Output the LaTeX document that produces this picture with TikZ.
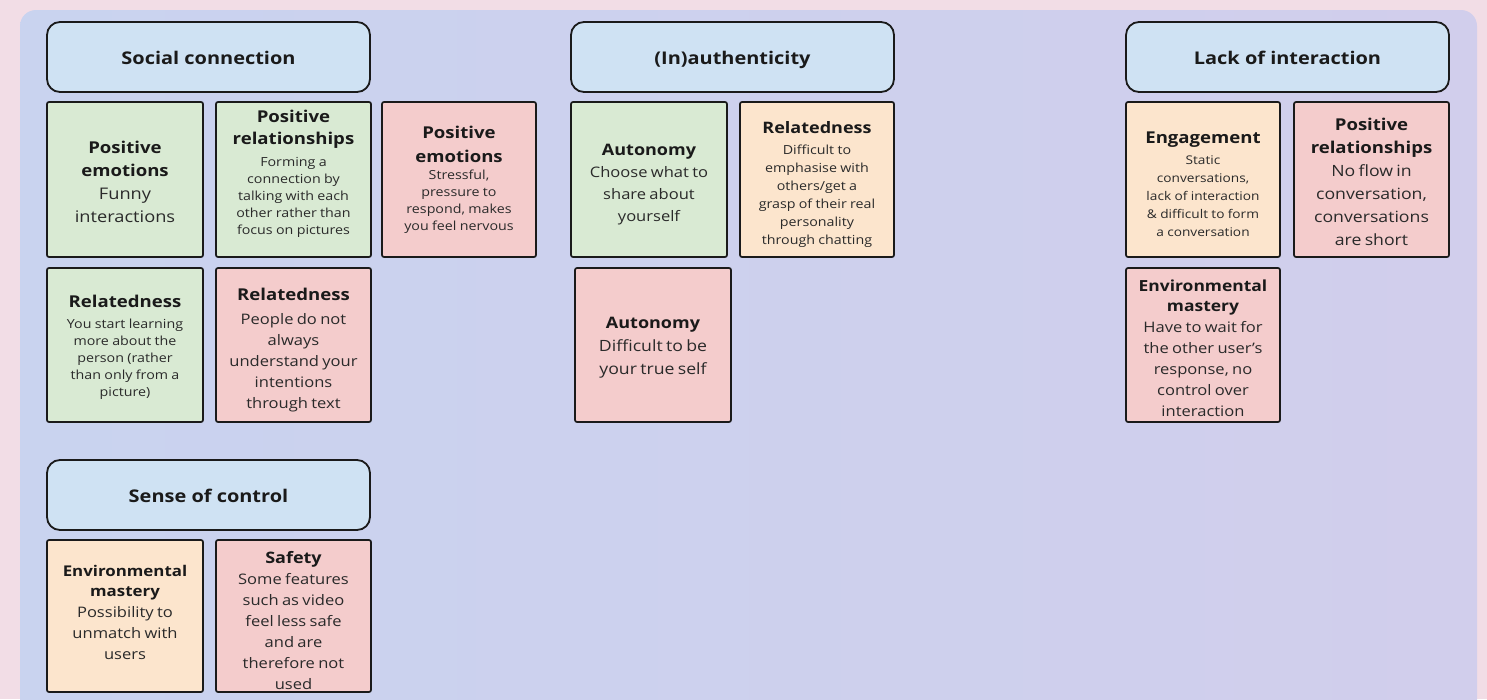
\documentclass[tikz,border=0pt]{standalone}
\usepackage{fontspec}
\setmainfont{Open Sans}[FakeStretch=1.14]
\usetikzlibrary{positioning}

\definecolor{bgpink}{HTML}{F2DDE6}
\definecolor{panelL}{HTML}{C9D3EF}
\definecolor{panelR}{HTML}{D1CEEC}
\definecolor{ink}{HTML}{1A1A1A}
\definecolor{bodyink}{HTML}{2A2A2A}
\definecolor{hdrblue}{HTML}{CFE2F3}
\definecolor{cgreen}{HTML}{D9EAD3}
\definecolor{cred}{HTML}{F4CCCC}
\definecolor{corange}{HTML}{FCE5CD}

% heading and body text of a card
\newcommand\cardhead[3]{{\fontsize{#1}{#2}\selectfont\bfseries\color{ink}#3\par}}
\newcommand\cardbody[3]{{\fontsize{#1}{#2}\selectfont\color{bodyink}#3\par}}
% extra space between heading and body
\newcommand\headgap[1]{\vspace*{#1}}
% move the text block of a card down by #1 (negative: up)
\newcommand\lowerby[1]{\par\vspace*{-2\dimexpr#1\relax}}

\tikzset{
  card/.style={draw=ink, line width=1.7pt, rounded corners=2pt, inner sep=0pt,
               align=center, text=ink},
  gcard/.style={card, fill=cgreen},
  rcard/.style={card, fill=cred},
  ocard/.style={card, fill=corange},
  dims/.style n args={3}{minimum width=#1, minimum height=#2, text width=#3},
  theme/.style={draw=ink, line width=1.8pt, rounded corners=13pt, fill=hdrblue,
                minimum width=323pt, minimum height=70pt, text=ink,
                text height=18pt, text depth=3pt,
                font=\fontsize{17.5}{20}\selectfont\bfseries},
}

\begin{document}
\begin{tikzpicture}[x=1pt,y=-1pt]
\useasboundingbox (0,0) rectangle (1487,699);
\fill[bgpink] (0,0) rectangle (1487,699);
\shade[left color=panelL, right color=panelR, rounded corners=16pt]
  (20,10) rectangle (1477,760);

% ---- Social connection ----
\node[theme] (sc) at (208.5,57) {Social connection};
\node[gcard, dims={156pt}{155pt}{150pt}] (sc1) at (125,179.5)
  {\cardhead{16.3}{23}{Positive\\emotions}\cardbody{16}{23}{Funny\\interactions}\lowerby{2pt}};
\node[gcard, dims={155pt}{155pt}{150pt}] (sc2) at (293.5,179.5)
  {\cardhead{16.3}{22}{Positive\\relationships}\headgap{5pt}\cardbody{12.5}{17}{Forming a\\connection by\\talking with each\\other rather than\\focus on pictures}\lowerby{-5.5pt}};
\node[rcard, dims={154pt}{155pt}{150pt}] (sc3) at (459,179.5)
  {\cardhead{16.3}{24}{Positive\\emotions}\cardbody{12.5}{17}{Stressful,\\pressure to\\respond, makes\\you feel nervous}};
\node[gcard, dims={156pt}{154pt}{150pt}] (sc4) at (125,345)
  {\cardhead{16.3}{21}{Relatedness}\headgap{4pt}\cardbody{12.5}{17}{You start learning\\more about the\\person (rather\\than only from a\\picture)}\lowerby{2pt}};
\node[rcard, dims={155pt}{154pt}{150pt}] (sc5) at (293.5,345)
  {\cardhead{16.3}{22}{Relatedness}\headgap{3pt}\cardbody{14.5}{21}{People do not\\always\\understand your\\intentions\\through text}\lowerby{5pt}};

% ---- Sense of control ----
\node[theme] (ctl) at (208.5,495) {Sense of control};
\node[ocard, dims={156pt}{152pt}{150pt}] (ctl1) at (125,616)
  {\cardhead{14.8}{20}{Environmental\\mastery}\cardbody{14.5}{21}{Possibility to\\unmatch with\\users}\lowerby{-4pt}};
\node[rcard, dims={155pt}{152pt}{150pt}] (ctl2) at (293.5,616)
  {\cardhead{15.8}{22}{Safety}\cardbody{14.5}{21}{Some features\\such as video\\feel less safe\\and are\\therefore not\\used}\lowerby{5pt}};

% ---- (In)authenticity ----
\node[theme] (au) at (732.5,57) {(In)authenticity};
\node[gcard, dims={156pt}{155pt}{150pt}] (au1) at (649,179.5)
  {\cardhead{15.8}{22}{Autonomy}\cardbody{14.5}{22}{Choose what to\\share about\\yourself}\lowerby{5pt}};
\node[ocard, dims={154pt}{155pt}{150pt}] (au2) at (817,179.5)
  {\cardhead{15.8}{21}{Relatedness}\headgap{3pt}\cardbody{12.5}{18}{Difficult to\\emphasise with\\others/get a\\grasp of their real\\personality\\through chatting}\lowerby{4.5pt}};
\node[rcard, dims={156pt}{154pt}{150pt}] (au3) at (653,345)
  {\cardhead{15.8}{23}{Autonomy}\cardbody{15.5}{23}{Difficult to be\\your true self}\lowerby{3pt}};

% ---- Lack of interaction ----
\node[theme] (li) at (1287.5,57) {Lack of interaction};
\node[ocard, dims={154pt}{155pt}{150pt}] (li1) at (1203,179.5)
  {\cardhead{16.3}{21}{Engagement}\headgap{3pt}\cardbody{12}{18}{Static\\conversations,\\lack of interaction\\\& difficult to form\\a conversation}\lowerby{4.5pt}};
\node[rcard, dims={155pt}{155pt}{150pt}] (li2) at (1371.5,179.5)
  {\cardhead{16.3}{23}{Positive\\relationships}\cardbody{15.5}{23}{No flow in\\conversation,\\conversations\\are short}\lowerby{2pt}};
\node[rcard, dims={154pt}{154pt}{150pt}] (li3) at (1203,345)
  {\cardhead{15.3}{20}{Environmental\\mastery}\cardbody{14.5}{21}{Have to wait for\\the other user’s\\response, no\\control over\\interaction}\lowerby{3pt}};
\end{tikzpicture}
\end{document}
